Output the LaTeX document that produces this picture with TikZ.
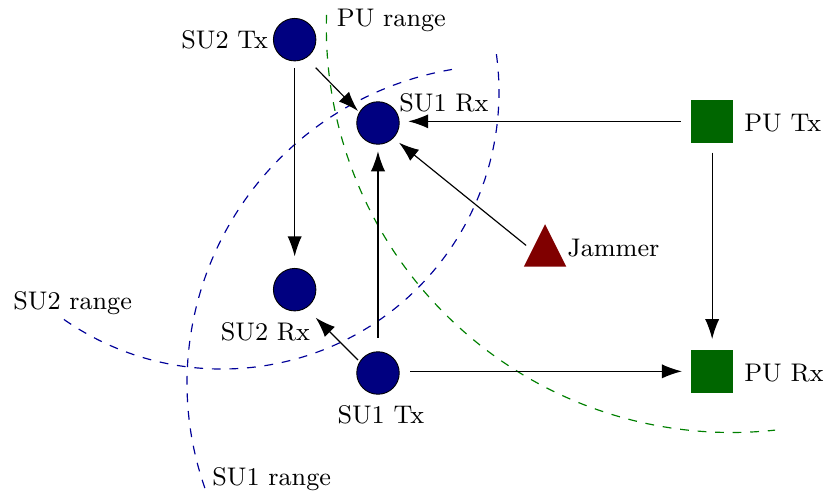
\documentclass[tikz,border=0pt]{standalone}
\usetikzlibrary{arrows.meta,shapes.geometric}
\begin{document}
\begin{tikzpicture}[
  font=\fontsize{8.7pt}{10pt}\selectfont,
  su/.style={circle, draw=black, line width=0.3pt, fill=blue!50!black, minimum size=0.51cm, inner sep=0pt, outer sep=0pt},
  pu/.style={rectangle, fill=green!40!black, minimum size=0.51cm, inner sep=0pt, outer sep=0pt},
  jam/.style={isosceles triangle, shape border rotate=90, isosceles triangle apex angle=53.13,
    isosceles triangle stretches, minimum width=0.51cm, minimum height=0.51cm,
    fill=red!50!black, inner sep=0pt, outer sep=0pt},
  lbl/.style={inner sep=0pt, outer sep=0pt},
  link/.style={-{Latex[length=2.4mm,width=1.7mm]}, black},
  surange/.style={dashed, blue!60!black},
  purange/.style={dashed, green!50!black}
]
\useasboundingbox (-4.536,-1.404) rectangle (5.34,4.476);

% nodes
\node[su] (su2tx) at (-1,4) {};
\node[su] (su1rx) at (0,3) {};
\node[su] (su2rx) at (-1,1) {};
\node[su] (su1tx) at (0,0) {};
\node[pu] (putx) at (4.01,3.02) {};
\node[pu] (purx) at (4.01,0.02) {};
\node[jam, anchor=lower side] (jammer) at (2.005,1.276) {};

% labels
\node[lbl, anchor=base east] (l-su2tx) at (-1.32,3.896) {SU2 Tx};
\node[lbl, anchor=base west] (l-pur) at (-0.492,4.156) {PU range};
\node[lbl, anchor=base west] (l-su1rx) at (0.256,3.136) {SU1 Rx};
\node[lbl, anchor=base west] (l-putx) at (4.396,2.896) {PU Tx};
\node[lbl, anchor=base west] (l-jam) at (2.272,1.404) {Jammer};
\node[lbl, anchor=base west] (l-purx) at (4.396,-0.104) {PU Rx};
\node[lbl, anchor=base east] (l-su2rx) at (-0.816,0.396) {SU2 Rx};
\node[lbl, anchor=base] (l-su1tx) at (0.034,-0.604) {SU1 Tx};
\node[lbl, anchor=base west] (l-su2r) at (-4.376,0.768) {SU2 range};
\node[lbl, anchor=base west] (l-su1r) at (-1.988,-1.344) {SU1 range};

% ranges
\coordinate (c-su2) at (-1.872,3.372);
\coordinate (c-su1) at (1.524,-0.12);
\coordinate (c-pu) at (4.240,4.146);
\draw[surange] (c-su2) ++(235.2:3.324) arc[start angle=235.2, end angle=369.4, radius=3.324];
\draw[surange] (c-su1) ++(199.3:3.816) arc[start angle=199.3, end angle=99.6, radius=3.816];
\draw[purange] (c-pu) ++(178.2:4.86) arc[start angle=178.2, end angle=276.2, radius=4.86];

% links
\draw[link, shorten <=0.084cm, shorten >=0.144cm] (su2tx) -- (su2rx);
\draw[link] ([shift={(0.252,-0.336)}]su2tx.center) -- ([shift={(-0.24,0.144)}]su1rx.center);
\draw[link, shorten <=0.168cm, shorten >=0.084cm] (su1tx) -- (su1rx);
\draw[link] ([shift={(-0.24,0.156)}]su1tx.center) -- ([shift={(0.252,-0.336)}]su2rx.center);
\draw[link, shorten <=0.132cm, shorten >=0.108cm] (su1tx.east |- purx) -- (purx);
\draw[link, shorten <=0.12cm, shorten >=0.132cm] (putx) -- (purx);
\draw[link, shorten <=0.12cm, shorten >=0.108cm] (putx) -- (su1rx.east |- putx);
\draw[link] ([xshift=-0.1cm]jammer.left side) -- ([shift={(0.252,-0.236)}]su1rx.center);
\end{tikzpicture}
\end{document}
